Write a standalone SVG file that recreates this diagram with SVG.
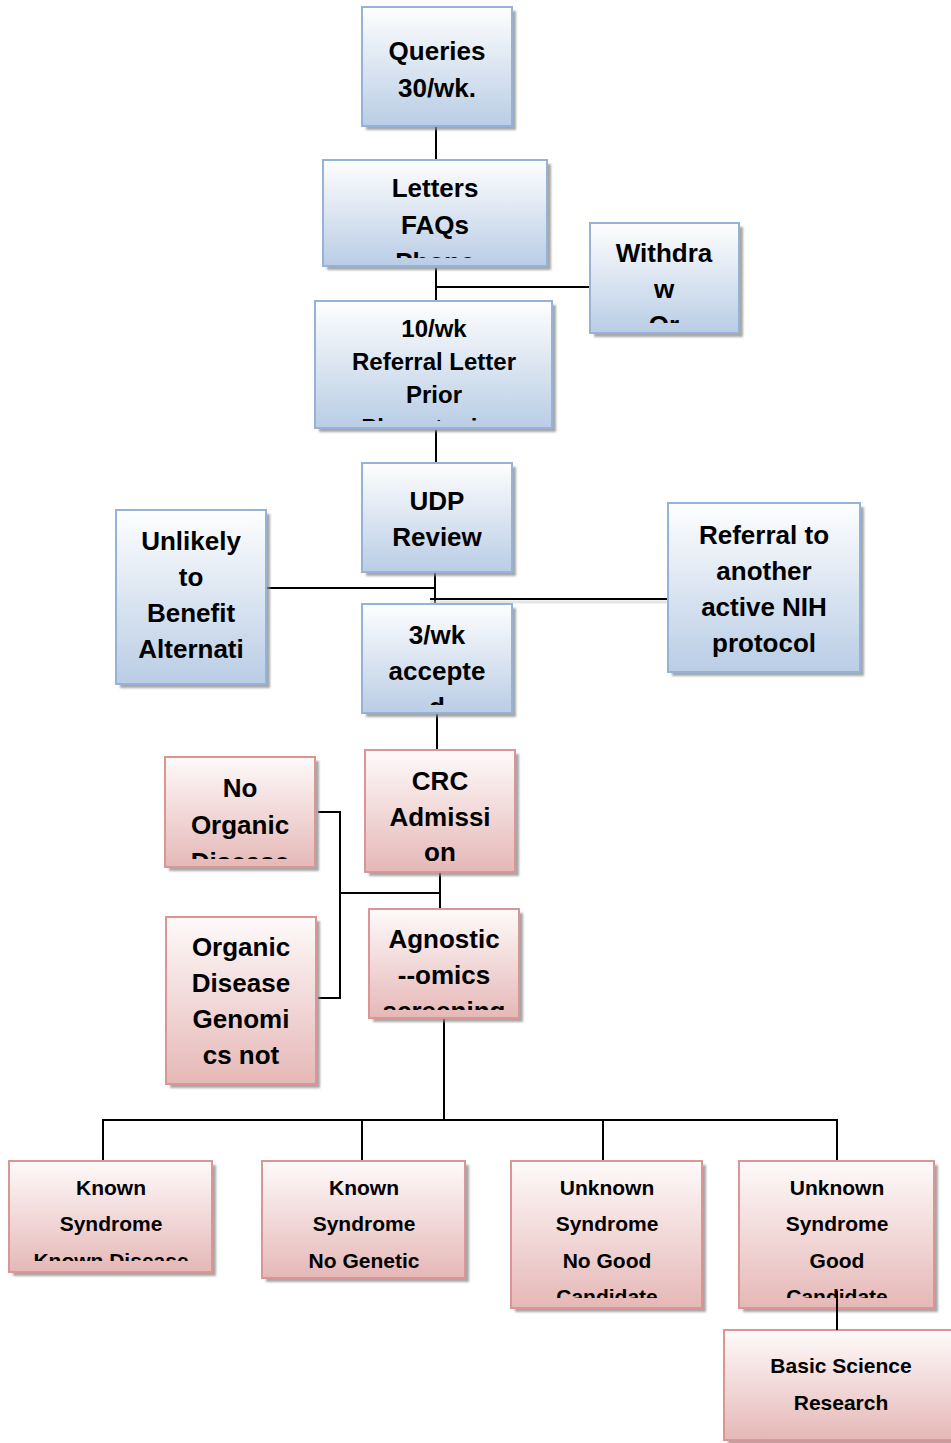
<svg xmlns="http://www.w3.org/2000/svg" width="951" height="1443" viewBox="0 0 951 1443">
<style>
.b{fill:url(#gb);stroke:#95b3d7;stroke-width:2}
.p{fill:url(#gp);stroke:#d99694;stroke-width:2}
.sh{fill:#8a8a8a;opacity:.75;filter:url(#bl)}
.t{font-family:"Liberation Sans",Arial,sans-serif;font-weight:bold;font-size:26px;text-anchor:middle;fill:#000}
.s{font-size:21px}
.m{font-size:24px}
.c line{stroke:#000;stroke-width:2}
</style>
<defs>
<linearGradient id="gb" x1="0" y1="0" x2="0" y2="1"><stop offset="0" stop-color="#fefefe"/><stop offset="1" stop-color="#b9cde5"/></linearGradient>
<linearGradient id="gp" x1="0" y1="0" x2="0" y2="1"><stop offset="0" stop-color="#fefafa"/><stop offset="1" stop-color="#e5b8b7"/></linearGradient>
<filter id="bl" x="-5%" y="-5%" width="110%" height="110%"><feGaussianBlur stdDeviation="1"/></filter>
<clipPath id="c1"><rect x="323" y="160" width="224" height="98"/></clipPath>
<clipPath id="c2"><rect x="590" y="223" width="149" height="100"/></clipPath>
<clipPath id="c3"><rect x="315" y="301" width="237" height="120"/></clipPath>
<clipPath id="c4"><rect x="362" y="604" width="150" height="101"/></clipPath>
<clipPath id="c5"><rect x="165" y="757" width="150" height="102"/></clipPath>
<clipPath id="c6"><rect x="369" y="909" width="150" height="101"/></clipPath>
<clipPath id="c7"><rect x="9" y="1161" width="203" height="100"/></clipPath>
<clipPath id="c8"><rect x="511" y="1161" width="191" height="137"/></clipPath>
<clipPath id="c9"><rect x="739" y="1161" width="195" height="137"/></clipPath>
</defs>
<rect width="951" height="1443" fill="#fff"/>

<g id="connectors" class="c">
<line x1="436" y1="126" x2="436" y2="160"/>
<line x1="436" y1="268" x2="436" y2="301"/>
<line x1="436" y1="287" x2="590" y2="287"/>
<line x1="436" y1="430" x2="436" y2="463"/>
<line x1="435" y1="572" x2="435" y2="604"/>
<line x1="263" y1="588" x2="435" y2="588"/>
<line x1="430" y1="602" x2="668" y2="602" style="stroke:#ccc;stroke-width:3;opacity:.5"/>
<line x1="430" y1="599" x2="668" y2="599"/>
<line x1="437" y1="713" x2="437" y2="750"/>
<line x1="440" y1="872" x2="440" y2="909"/>
<line x1="340" y1="893" x2="440" y2="893"/>
<line x1="340" y1="812" x2="340" y2="999"/>
<line x1="318" y1="812" x2="341" y2="812"/>
<line x1="318" y1="998" x2="341" y2="998"/>
<line x1="444" y1="1018" x2="444" y2="1120"/>
<line x1="103" y1="1120" x2="837" y2="1120"/>
<line x1="103" y1="1119" x2="103" y2="1161"/>
<line x1="362" y1="1119" x2="362" y2="1161"/>
<line x1="603" y1="1119" x2="603" y2="1161"/>
<line x1="837" y1="1119" x2="837" y2="1161"/>
</g>

<g id="queries"><rect class="sh" x="366" y="11" width="150" height="119"/><rect class="b" x="362" y="7" width="150" height="119"/>
<text class="t"><tspan x="437" y="60">Queries</tspan><tspan x="437" y="97">30/wk.</tspan></text></g>

<g id="letters"><rect class="sh" x="327" y="164" width="224" height="106"/><rect class="b" x="323" y="160" width="224" height="106"/>
<text class="t" clip-path="url(#c1)"><tspan x="435" y="197">Letters</tspan><tspan x="435" y="234">FAQs</tspan><tspan x="435" y="271">Phone</tspan></text></g>

<g id="withdraw"><rect class="sh" x="594" y="227" width="149" height="110"/><rect class="b" x="590" y="223" width="149" height="110"/>
<text class="t"><tspan x="664" y="262">Withdra</tspan><tspan x="664" y="298">w</tspan></text>
<text class="t" clip-path="url(#c2)"><tspan x="664" y="334">Or</tspan></text></g>

<g id="referral-letter"><rect class="sh" x="319" y="305" width="237" height="127"/><rect class="b" x="315" y="301" width="237" height="127"/>
<text class="t m" clip-path="url(#c3)"><tspan x="434" y="337">10/wk</tspan><tspan x="434" y="370">Referral Letter</tspan><tspan x="434" y="403">Prior</tspan><tspan x="434" y="436">Phenotyping</tspan></text></g>

<g id="udp-review"><rect class="sh" x="366" y="467" width="150" height="109"/><rect class="b" x="362" y="463" width="150" height="109"/>
<text class="t"><tspan x="437" y="510">UDP</tspan><tspan x="437" y="546">Review</tspan></text></g>

<g id="unlikely"><rect class="sh" x="120" y="514" width="150" height="174"/><rect class="b" x="116" y="510" width="150" height="174"/>
<text class="t"><tspan x="191" y="550">Unlikely</tspan><tspan x="191" y="586">to</tspan><tspan x="191" y="622">Benefit</tspan><tspan x="191" y="658">Alternati</tspan></text></g>

<g id="referral-nih"><rect class="sh" x="672" y="507" width="192" height="169"/><rect class="b" x="668" y="503" width="192" height="169"/>
<text class="t"><tspan x="764" y="544">Referral to</tspan><tspan x="764" y="580">another</tspan><tspan x="764" y="616">active NIH</tspan><tspan x="764" y="652">protocol</tspan></text></g>

<g id="accepted"><rect class="sh" x="366" y="608" width="150" height="109"/><rect class="b" x="362" y="604" width="150" height="109"/>
<text class="t" clip-path="url(#c4)"><tspan x="437" y="644">3/wk</tspan><tspan x="437" y="680">accepte</tspan><tspan x="437" y="716">d</tspan></text></g>

<g id="crc"><rect class="sh" x="369" y="754" width="150" height="122"/><rect class="p" x="365" y="750" width="150" height="122"/>
<text class="t"><tspan x="440" y="790">CRC</tspan><tspan x="440" y="826">Admissi</tspan><tspan x="440" y="861">on</tspan></text></g>

<g id="no-organic"><rect class="sh" x="169" y="761" width="150" height="110"/><rect class="p" x="165" y="757" width="150" height="110"/>
<text class="t" clip-path="url(#c5)"><tspan x="240" y="797">No</tspan><tspan x="240" y="834">Organic</tspan><tspan x="240" y="871">Disease</tspan></text></g>

<g id="agnostic"><rect class="sh" x="373" y="913" width="150" height="109"/><rect class="p" x="369" y="909" width="150" height="109"/>
<text class="t" clip-path="url(#c6)"><tspan x="444" y="948">Agnostic</tspan><tspan x="444" y="984">--omics</tspan><tspan x="444" y="1020">screening</tspan></text></g>

<g id="organic"><rect class="sh" x="170" y="921" width="150" height="167"/><rect class="p" x="166" y="917" width="150" height="167"/>
<text class="t"><tspan x="241" y="956">Organic</tspan><tspan x="241" y="992">Disease</tspan><tspan x="241" y="1028">Genomi</tspan><tspan x="241" y="1064">cs not</tspan></text></g>

<g id="known-disease"><rect class="sh" x="13" y="1165" width="203" height="111"/><rect class="p" x="9" y="1161" width="203" height="111"/>
<text class="t s" clip-path="url(#c7)"><tspan x="111" y="1195">Known</tspan><tspan x="111" y="1231">Syndrome</tspan><tspan x="111" y="1268">Known Disease</tspan></text></g>

<g id="no-genetic"><rect class="sh" x="266" y="1165" width="203" height="117"/><rect class="p" x="262" y="1161" width="203" height="117"/>
<text class="t s"><tspan x="364" y="1195">Known</tspan><tspan x="364" y="1231">Syndrome</tspan><tspan x="364" y="1268">No Genetic</tspan></text></g>

<g id="no-good"><rect class="sh" x="515" y="1165" width="191" height="147"/><rect class="p" x="511" y="1161" width="191" height="147"/>
<text class="t s" clip-path="url(#c8)"><tspan x="607" y="1195">Unknown</tspan><tspan x="607" y="1231">Syndrome</tspan><tspan x="607" y="1268">No Good</tspan><tspan x="607" y="1304">Candidate</tspan></text></g>

<g id="good"><rect class="sh" x="743" y="1165" width="195" height="147"/><rect class="p" x="739" y="1161" width="195" height="147"/>
<text class="t s" clip-path="url(#c9)"><tspan x="837" y="1195">Unknown</tspan><tspan x="837" y="1231">Syndrome</tspan><tspan x="837" y="1268">Good</tspan><tspan x="837" y="1304">Candidate</tspan></text></g>

<g id="basic-science"><rect class="sh" x="728" y="1334" width="234" height="110"/><rect class="p" x="724" y="1330" width="234" height="110"/>
<text class="t s"><tspan x="841" y="1373">Basic Science</tspan><tspan x="841" y="1410">Research</tspan></text></g>

<g id="connector-top" class="c"><line x1="837" y1="1291" x2="837" y2="1330"/></g>
</svg>
